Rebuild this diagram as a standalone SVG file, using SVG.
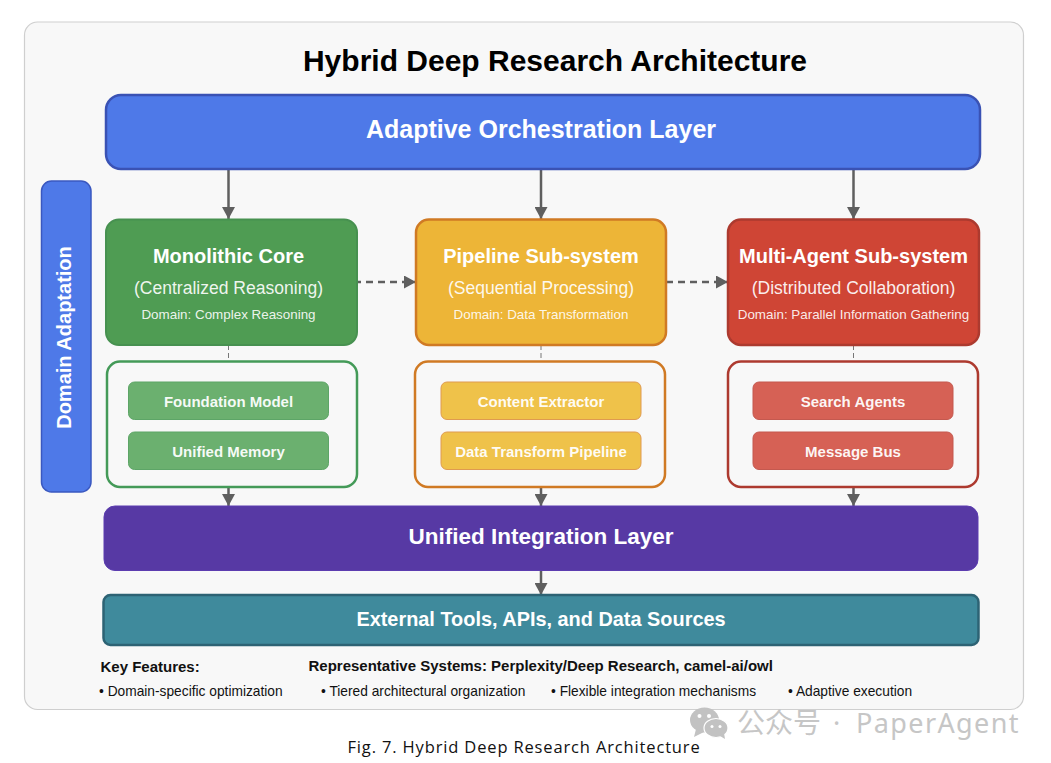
<svg xmlns="http://www.w3.org/2000/svg" width="1051" height="763" viewBox="0 0 1051 763">
<style>
text{font-family:"Liberation Sans",Arial,sans-serif;text-anchor:middle}
.w{fill:#fff}.b{font-weight:700}
.t1{font-size:20px;font-weight:700;fill:#fff}
.t2{font-size:17.550px;fill:#fff;fill-opacity:.92}
.t3{font-size:13.400px;fill:#fff;fill-opacity:.9}
.in{font-size:15px;font-weight:700;fill:#fff;fill-opacity:.95}
.f{font-size:13.750px;fill:#111;text-anchor:start}
.h{font-size:15px;font-weight:700;fill:#111;text-anchor:start}
.sub{fill:#f8f8f8;stroke-width:2.5}
.a{stroke:#5f5f5f;stroke-width:2.5;fill:none}
.d{stroke:#5f5f5f;stroke-width:2.5;fill:none;stroke-dasharray:7 5}
.th{stroke:#777;stroke-width:1;fill:none;stroke-dasharray:5 3}
</style>
<defs>
<marker id="ah" markerUnits="userSpaceOnUse" markerWidth="12" markerHeight="13" refX="12" refY="6.500" orient="auto"><path d="M0 0L12 6.500L0 13Z" fill="#5f5f5f"/></marker>
</defs>
<rect width="1051" height="763" fill="#fff"/>
<rect id="panel" x="24.500" y="22" width="999" height="687.500" rx="13" fill="#f8f8f8" stroke="#cfcfcf" stroke-width="1.200"/>
<text x="555" y="71" font-size="30" font-weight="700" fill="#000">Hybrid Deep Research Architecture</text>
<g id="connectors">
<path class="a" marker-end="url(#ah)" d="M228.500 169V219"/>
<path class="a" marker-end="url(#ah)" d="M541 169V219"/>
<path class="a" marker-end="url(#ah)" d="M853.500 169V219"/>
<path class="d" marker-end="url(#ah)" d="M354 282H416"/>
<path class="d" marker-end="url(#ah)" d="M666 282H728"/>
<path class="th" d="M228.500 345V361"/>
<path class="th" d="M541 345V361"/>
<path class="th" d="M853.500 345V361"/>
<path class="a" marker-end="url(#ah)" d="M228.500 487V506"/>
<path class="a" marker-end="url(#ah)" d="M541 487V506"/>
<path class="a" marker-end="url(#ah)" d="M853.500 487V506"/>
<path class="a" marker-end="url(#ah)" d="M541 570V595"/>
</g>
<g id="orchestration"><rect x="106" y="95" width="874" height="74" rx="15" fill="#4e79e8" stroke="#3a52b4" stroke-width="2.500"/><text class="w b" x="541" y="138" font-size="25">Adaptive Orchestration Layer</text></g>
<g id="domain-adaptation"><rect x="41.500" y="181" width="49.500" height="311" rx="10" fill="#4e79e8" stroke="#3a58c0" stroke-width="1.500"/><text class="w b" transform="translate(71 337.500) rotate(-90)" font-size="20">Domain Adaptation</text></g>
<g id="monolithic"><rect x="106" y="219.500" width="251" height="125.500" rx="13" fill="#4f9c53" stroke="#479150" stroke-width="2"/><text class="t1" x="228.500" y="263">Monolithic Core</text><text class="t2" x="228.500" y="294">(Centralized Reasoning)</text><text class="t3" x="228.500" y="319">Domain: Complex Reasoning</text></g>
<g id="pipeline"><rect x="416" y="219.500" width="250" height="125.500" rx="13" fill="#edb537" stroke="#d07a24" stroke-width="2.500"/><text class="t1" x="541" y="263">Pipeline Sub-system</text><text class="t2" x="541" y="294">(Sequential Processing)</text><text class="t3" x="541" y="319">Domain: Data Transformation</text></g>
<g id="multiagent"><rect x="728" y="219.500" width="251" height="125.500" rx="13" fill="#cf4535" stroke="#ac3a2f" stroke-width="2.500"/><text class="t1" x="853.500" y="263">Multi-Agent Sub-system</text><text class="t2" x="853.500" y="294">(Distributed Collaboration)</text><text class="t3" x="853.500" y="319">Domain: Parallel Information Gathering</text></g>
<g id="mono-sub"><rect class="sub" x="107" y="361.500" width="250" height="125.500" rx="13" stroke="#449a58"/></g>
<g id="pipe-sub"><rect class="sub" x="415" y="361.500" width="250" height="125.500" rx="13" stroke="#d07a24"/></g>
<g id="multi-sub"><rect class="sub" x="728" y="361.500" width="250" height="125.500" rx="13" stroke="#ad3a2f"/></g>
<g id="foundation-model"><rect x="128.500" y="382" width="200" height="37.500" rx="6" fill="#6bb06f" stroke="#5da567"/><text class="in" x="228.500" y="407">Foundation Model</text></g>
<g id="unified-memory"><rect x="128.500" y="432" width="200" height="37.500" rx="6" fill="#6bb06f" stroke="#5da567"/><text class="in" x="228.500" y="457">Unified Memory</text></g>
<g id="content-extractor"><rect x="441" y="382" width="200" height="37.500" rx="6" fill="#efc24a" stroke="#df9a50"/><text class="in" x="541" y="407">Content Extractor</text></g>
<g id="data-transform"><rect x="441" y="432" width="200" height="37.500" rx="6" fill="#efc24a" stroke="#df9a50"/><text class="in" x="541" y="457">Data Transform Pipeline</text></g>
<g id="search-agents"><rect x="753" y="382" width="200" height="37.500" rx="6" fill="#d66155" stroke="#c4594f"/><text class="in" x="853" y="407">Search Agents</text></g>
<g id="message-bus"><rect x="753" y="432" width="200" height="37.500" rx="6" fill="#d66155" stroke="#c4594f"/><text class="in" x="853" y="457">Message Bus</text></g>
<g id="integration"><rect x="104" y="506" width="874" height="64.500" rx="11" fill="#5739a4" stroke="#5c3db0" stroke-width="1"/><text class="w b" x="541" y="544" font-size="22.500">Unified Integration Layer</text></g>
<g id="external"><rect x="103.500" y="595" width="875" height="50" rx="7" fill="#3f8a9c" stroke="#2d6374" stroke-width="2.500"/><text class="w b" x="541" y="626" font-size="19.900">External Tools, APIs, and Data Sources</text></g>
<text class="h" x="100.500" y="672">Key Features:</text>
<text class="h" x="308.500" y="671">Representative Systems: Perplexity/Deep Research, camel-ai/owl</text>
<text class="f" x="99" y="696">• Domain-specific optimization</text>
<text class="f" x="321" y="696">• Tiered architectural organization</text>
<text class="f" x="551" y="696">• Flexible integration mechanisms</text>
<text class="f" x="788" y="696">• Adaptive execution</text>
<g id="watermark">
<ellipse cx="704.500" cy="720" rx="14.500" ry="12.500" fill="#c2c2c2"/><path d="M696 729L694 737L704 732Z" fill="#c2c2c2"/>
<circle cx="699.500" cy="716" r="2" fill="#fff"/><circle cx="709" cy="716" r="2" fill="#fff"/>
<ellipse cx="716" cy="728" rx="12" ry="9.500" fill="#c2c2c2" stroke="#fff" stroke-width="1.200"/><path d="M720 736L725 739L724 733Z" fill="#c2c2c2"/>
<circle cx="712" cy="726.500" r="1.500" fill="#fff"/><circle cx="720" cy="726.500" r="1.500" fill="#fff"/>
<text x="737" y="733" font-size="28" fill="#c6c6c6" style="text-anchor:start;font-family:'Noto Sans CJK SC','Noto Sans',sans-serif">公众号</text>
<text x="833" y="733" font-size="27" fill="#c6c6c6" style="text-anchor:start;font-family:'Noto Sans','DejaVu Sans',sans-serif">·</text>
<text x="856" y="733" font-size="27" letter-spacing="1.400" fill="#c6c6c6" style="text-anchor:start;font-family:'Noto Sans','DejaVu Sans',sans-serif">PaperAgent</text>
</g>
<text x="524" y="753" font-size="16.500" fill="#111" letter-spacing=".85" style="font-family:'Open Sans','DejaVu Sans',sans-serif">Fig. 7.  Hybrid Deep Research Architecture</text>
</svg>
